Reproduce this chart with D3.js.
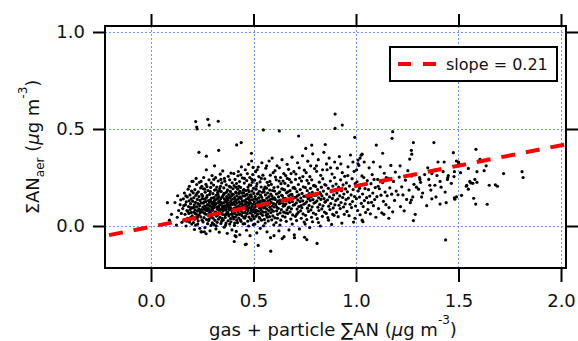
<!DOCTYPE html>
<html>
<head>
<meta charset="utf-8">
<script src="https://cdn.jsdelivr.net/npm/d3@7"></script>
<style>
  body { margin: 0; background: #fff; }
  text { font-family: "DejaVu Sans", sans-serif; fill: #111; }
</style>
</head>
<body>
<svg id="chart" width="578" height="341"></svg>
<script>
/// DATA ///
const xTicks = [0, 0.5, 1.0, 1.5, 2.0];
const yTicks = [0, 0.5, 1.0];
const fitSlope = 0.21;
const fitIntercept = -0.004;
const legendLabel = "slope = 0.21";

// gas + particle ΣAN vs aerosol ΣAN (µg m-3)
const points = [
  [0.080,0.120],[0.117,0.121],[0.130,0.156],[0.124,0.005],[0.151,0.019],[0.10,0.06],[0.135,0.08],[0.142,0.11],[0.128,0.045],[0.145,0.135],[0.09,0.03],[0.148,0.065],
  [0.155,0.09],[0.158,0.14],[0.161,0.03],[0.163,0.17],[0.166,0.06],[0.168,0.11],[0.171,0.00],[0.172,0.125],[0.175,0.08],[0.177,0.15],[0.179,0.04],[0.181,0.19],[0.183,0.10],[0.185,0.065],[0.186,0.13],[0.188,0.02],[0.19,0.16],[0.191,0.085],[0.193,0.115],[0.194,0.045],[0.196,0.14],[0.197,0.07],[0.198,0.18],[0.199,0.01],[0.16,0.105],[0.17,0.155],[0.18,0.075],[0.187,0.205],[0.195,0.095],[0.174,0.025],
  [0.201,0.052],[0.203,0.128],[0.204,0.093],[0.206,0.171],[0.207,0.018],[0.209,0.146],[0.210,0.071],[0.211,0.109],[0.213,0.035],[0.214,0.187],[0.215,0.083],[0.217,0.122],[0.218,0.004],[0.219,0.158],[0.221,0.061],[0.222,0.099],[0.223,0.214],[0.225,0.041],[0.226,0.137],[0.227,0.077],[0.229,0.115],[0.230,0.026],[0.231,0.176],[0.233,0.088],[0.234,0.151],[0.235,0.057],[0.237,0.104],[0.238,-0.012],[0.239,0.132],[0.241,0.069],[0.242,0.196],[0.243,0.047],[0.245,0.118],[0.246,0.085],[0.247,0.163],[0.249,0.030],[0.250,0.141],[0.205,0.230],[0.212,-0.018],[0.220,0.245],[0.228,0.010],[0.236,0.225],[0.244,-0.030],[0.248,0.205],[0.216,0.064],[0.224,0.168],[0.232,0.112],[0.240,0.079],[0.208,0.097],[0.227,0.048],
  [0.251,0.073],[0.252,0.155],[0.254,0.021],[0.255,0.118],[0.256,0.192],[0.258,0.087],[0.259,0.043],[0.260,0.139],[0.262,0.102],[0.263,-0.008],[0.264,0.174],[0.266,0.061],[0.267,0.126],[0.268,0.215],[0.270,0.094],[0.271,0.033],[0.272,0.148],[0.274,0.079],[0.275,0.110],[0.276,0.012],[0.278,0.183],[0.279,0.056],[0.280,0.131],[0.282,0.090],[0.283,0.238],[0.284,0.037],[0.286,0.163],[0.287,0.105],[0.288,-0.025],[0.290,0.070],[0.291,0.199],[0.292,0.124],[0.294,0.049],[0.295,0.144],[0.296,0.085],[0.298,0.260],[0.299,0.016],[0.300,0.113],[0.253,0.098],[0.257,0.250],[0.261,0.066],[0.265,0.140],[0.269,-0.040],[0.273,0.203],[0.277,0.088],[0.281,0.028],[0.285,0.121],[0.289,0.177],[0.293,0.003],[0.297,0.097],[0.258,0.122],[0.266,0.082],[0.274,0.157],[0.282,0.062],[0.290,0.135],[0.298,0.045],[0.262,0.190],[0.278,0.108],[0.294,0.222],[0.286,0.075],
  [0.301,0.081],[0.302,0.167],[0.303,0.040],[0.304,0.123],[0.305,0.211],[0.306,0.094],[0.307,0.008],[0.308,0.146],[0.309,0.063],[0.310,0.185],[0.311,0.107],[0.312,0.029],[0.313,0.134],[0.314,0.072],[0.315,0.249],[0.316,0.115],[0.317,-0.015],[0.318,0.158],[0.319,0.051],[0.320,0.096],[0.321,0.201],[0.322,0.138],[0.323,0.019],[0.324,0.086],[0.325,0.173],[0.326,0.059],[0.327,0.120],[0.328,0.232],[0.329,0.035],[0.330,0.102],[0.331,0.152],[0.332,0.074],[0.333,-0.032],[0.334,0.128],[0.335,0.193],[0.336,0.046],[0.337,0.110],[0.338,0.267],[0.339,0.084],[0.340,0.141],[0.341,0.013],[0.342,0.178],[0.343,0.067],[0.344,0.116],[0.345,0.222],[0.346,0.091],[0.347,0.039],[0.348,0.149],[0.349,0.103],[0.350,0.284],[0.303,0.100],[0.309,0.130],[0.315,0.070],[0.321,0.054],[0.327,0.165],[0.333,0.089],[0.339,0.205],[0.345,0.025],[0.306,0.240],[0.318,0.001],[0.330,0.180],[0.342,0.122],[0.312,0.112],[0.324,0.142],[0.336,0.079],[0.348,0.060],[0.305,0.145],[0.329,0.095],[0.341,0.240],[0.317,0.188],
  [0.351,0.077],[0.352,0.158],[0.353,0.031],[0.354,0.119],[0.355,0.196],[0.356,0.088],[0.357,-0.006],[0.358,0.140],[0.359,0.058],[0.360,0.231],[0.361,0.104],[0.362,0.044],[0.363,0.170],[0.364,0.082],[0.365,0.127],[0.366,0.015],[0.367,0.212],[0.368,0.095],[0.369,0.151],[0.370,0.066],[0.371,0.113],[0.372,-0.038],[0.373,0.186],[0.374,0.071],[0.375,0.135],[0.376,0.027],[0.377,0.256],[0.378,0.099],[0.379,0.162],[0.380,0.052],[0.381,0.121],[0.382,0.205],[0.383,0.083],[0.384,0.010],[0.385,0.145],[0.386,0.106],[0.387,0.178],[0.388,0.038],[0.389,0.129],[0.390,0.273],[0.391,0.090],[0.392,0.061],[0.393,0.154],[0.394,0.117],[0.395,-0.020],[0.396,0.223],[0.397,0.075],[0.398,0.138],[0.399,0.048],[0.400,0.192],[0.354,0.100],[0.362,0.132],[0.370,0.176],[0.378,0.060],[0.386,0.097],[0.394,0.166],[0.358,0.245],[0.366,0.059],[0.374,0.108],[0.382,0.147],[0.390,0.022],[0.398,0.111],[0.356,0.168],[0.364,0.005],[0.372,0.143],[0.380,0.086],[0.388,0.200],[0.396,0.063],[0.368,0.124],[0.384,0.238],
  [0.401,0.084],[0.402,0.163],[0.403,0.036],[0.404,0.122],[0.405,0.208],[0.406,0.092],[0.407,0.003],[0.408,0.147],[0.409,0.065],[0.410,0.240],[0.411,0.109],[0.412,0.047],[0.413,0.175],[0.414,0.078],[0.415,0.131],[0.416,-0.028],[0.417,0.219],[0.418,0.098],[0.419,0.156],[0.420,0.057],[0.421,0.118],[0.422,0.017],[0.423,0.190],[0.424,0.073],[0.425,0.139],[0.426,0.281],[0.427,0.101],[0.428,0.041],[0.429,0.168],[0.430,0.087],[0.431,0.125],[0.432,0.229],[0.433,-0.045],[0.434,0.150],[0.435,0.062],[0.436,0.112],[0.437,0.199],[0.438,0.080],[0.439,0.024],[0.440,0.142],[0.441,0.305],[0.442,0.095],[0.443,0.170],[0.444,0.053],[0.445,0.128],[0.446,0.248],[0.447,0.069],[0.448,0.107],[0.449,0.011],[0.450,0.185],[0.404,0.270],[0.412,0.136],[0.420,0.093],[0.428,0.205],[0.436,0.032],[0.444,0.115],[0.408,0.015],[0.416,0.171],[0.424,0.259],[0.432,0.060],[0.440,0.096],[0.448,0.155],[0.406,0.120],[0.414,0.200],[0.422,0.081],[0.430,0.146],[0.438,0.264],[0.446,0.089],[0.418,0.030],[0.434,0.179],
  [0.451,0.091],[0.452,0.172],[0.453,0.043],[0.454,0.129],[0.455,0.221],[0.456,0.099],[0.457,0.012],[0.458,0.155],[0.459,0.070],[0.460,0.290],[0.461,0.114],[0.462,0.052],[0.463,0.183],[0.464,0.085],[0.465,0.138],[0.466,-0.022],[0.467,0.234],[0.468,0.103],[0.469,0.164],[0.470,0.064],[0.471,0.121],[0.472,0.025],[0.473,0.201],[0.474,0.078],[0.475,0.146],[0.476,0.318],[0.477,0.108],[0.478,0.046],[0.479,0.177],[0.480,0.094],[0.481,0.132],[0.482,0.250],[0.483,-0.050],[0.484,0.158],[0.485,0.067],[0.486,0.119],[0.487,0.210],[0.488,0.087],[0.489,0.030],[0.490,0.150],[0.491,0.335],[0.492,0.101],[0.493,0.180],[0.494,0.058],[0.495,0.135],[0.496,0.265],[0.497,0.074],[0.498,0.112],[0.499,0.007],[0.500,0.194],[0.454,0.188],[0.462,0.125],[0.470,0.270],[0.478,0.140],[0.486,0.036],[0.494,0.225],[0.458,0.041],[0.466,0.096],[0.474,0.186],[0.482,0.117],[0.490,0.078],[0.498,0.302],[0.456,0.245],[0.464,0.160],[0.472,0.089],[0.480,0.212],[0.488,0.160],[0.496,0.050],[0.476,0.000],[0.492,0.240],
  [0.501,0.086],[0.502,0.168],[0.503,0.038],[0.504,0.125],[0.505,0.236],[0.506,0.097],[0.507,0.010],[0.508,0.152],[0.509,0.068],[0.510,0.280],[0.511,0.111],[0.512,0.050],[0.513,0.190],[0.514,0.082],[0.515,0.137],[0.516,-0.035],[0.517,0.218],[0.518,0.104],[0.519,0.165],[0.520,0.060],[0.521,0.123],[0.522,0.022],[0.523,0.304],[0.524,0.076],[0.525,0.145],[0.526,0.255],[0.527,0.107],[0.528,0.044],[0.529,0.179],[0.530,0.092],[0.531,0.130],[0.532,0.227],[0.533,-0.012],[0.534,0.159],[0.535,0.065],[0.536,0.116],[0.537,0.201],[0.538,0.081],[0.539,0.030],[0.540,0.148],[0.541,0.326],[0.542,0.098],[0.543,0.174],[0.544,0.055],[0.545,0.133],[0.546,0.262],[0.547,0.072],[0.548,0.110],[0.549,0.001],[0.550,0.188],[0.506,0.140],[0.514,0.205],[0.522,0.168],[0.530,0.040],[0.538,0.245],[0.546,0.128],[0.510,0.075],[0.518,0.290],[0.526,0.120],[0.534,0.095],
  [0.551,0.093],[0.552,0.176],[0.553,0.034],[0.554,0.131],[0.555,0.243],[0.556,0.101],[0.557,0.015],[0.558,0.160],[0.559,0.072],[0.560,0.298],[0.561,0.118],[0.562,0.056],[0.563,0.195],[0.564,0.088],[0.565,0.143],[0.566,-0.030],[0.567,0.225],[0.568,0.108],[0.569,0.170],[0.570,0.063],[0.571,0.128],[0.572,0.026],[0.573,0.210],[0.574,0.080],[0.575,0.152],[0.576,0.335],[0.577,0.113],[0.578,0.048],[0.579,0.185],[0.580,0.096],[0.581,0.136],[0.582,0.262],[0.583,-0.060],[0.584,0.165],[0.585,0.069],[0.586,0.122],[0.587,0.215],[0.588,0.085],[0.589,0.032],[0.590,0.155],[0.591,0.350],[0.592,0.104],[0.593,0.183],[0.594,0.052],[0.595,0.140],[0.596,0.275],[0.597,0.076],[0.598,0.116],[0.599,0.006],[0.600,0.198],[0.556,0.200],[0.568,0.045],[0.580,0.230],[0.592,0.140],[0.564,0.310],
  [0.601,0.098],[0.603,0.180],[0.604,0.042],[0.606,0.137],[0.607,0.252],[0.609,0.110],[0.610,0.018],[0.612,0.165],[0.613,0.078],[0.615,0.310],[0.616,0.124],[0.618,0.060],[0.619,0.202],[0.621,0.091],[0.622,0.150],[0.624,-0.025],[0.625,0.232],[0.627,0.115],[0.628,0.176],[0.630,0.068],[0.631,0.133],[0.633,0.030],[0.634,0.218],[0.636,0.084],[0.637,0.158],[0.639,0.342],[0.640,0.119],[0.642,0.051],[0.643,0.190],[0.645,0.102],[0.646,0.141],[0.648,0.270],[0.649,-0.055],[0.602,0.145],[0.611,0.238],[0.620,0.129],[0.629,0.005],[0.638,0.192],[0.647,0.072],[0.605,0.285],[0.614,0.096],[0.623,0.170],[0.632,0.250],[0.641,0.155],[0.650,0.112],[0.617,0.040],[0.626,0.300],[0.635,0.127],[0.644,0.232],
  [0.651,0.105],[0.652,0.186],[0.654,0.046],[0.655,0.143],[0.657,0.260],[0.658,0.114],[0.660,0.024],[0.661,0.171],[0.663,0.083],[0.664,0.318],[0.666,0.130],[0.667,0.065],[0.669,0.208],[0.670,0.095],[0.672,0.156],[0.673,-0.020],[0.675,0.240],[0.676,0.121],[0.678,0.182],[0.679,0.073],[0.681,0.139],[0.682,0.036],[0.684,0.226],[0.685,0.089],[0.687,0.163],[0.688,0.355],[0.690,0.125],[0.691,0.057],[0.693,0.196],[0.694,0.107],[0.696,0.148],[0.697,0.280],[0.699,-0.045],[0.653,0.220],[0.662,0.135],[0.671,0.292],[0.680,0.160],[0.689,0.010],[0.698,0.199],[0.656,0.068],[0.665,0.245],[0.674,0.098],[0.683,0.270],[0.692,0.150],[0.668,0.176],
  [0.701,0.110],[0.703,0.192],[0.704,0.050],[0.706,0.148],[0.707,0.268],[0.709,0.119],[0.710,0.028],[0.712,0.177],[0.713,0.087],[0.715,0.326],[0.716,0.135],[0.718,0.070],[0.719,0.214],[0.721,0.100],[0.722,0.161],[0.724,-0.015],[0.725,0.247],[0.727,0.126],[0.728,0.188],[0.730,0.078],[0.731,0.144],[0.733,0.040],[0.734,0.232],[0.736,0.094],[0.737,0.168],[0.739,0.362],[0.740,0.130],[0.742,0.062],[0.743,0.202],[0.745,0.112],[0.746,0.153],[0.748,0.288],[0.749,-0.058],[0.705,0.240],[0.714,0.155],[0.723,0.300],[0.732,0.105],[0.741,0.255],[0.747,0.020],[0.711,0.060],
  [0.751,0.116],[0.753,0.198],[0.754,0.055],[0.756,0.153],[0.757,0.275],[0.759,0.124],[0.760,0.033],[0.762,0.182],[0.763,0.092],[0.765,0.334],[0.766,0.140],[0.768,0.075],[0.769,0.220],[0.771,0.106],[0.772,0.167],[0.774,-0.008],[0.775,0.254],[0.777,0.131],[0.778,0.194],[0.780,0.083],[0.781,0.150],[0.783,0.045],[0.784,0.238],[0.786,0.099],[0.787,0.174],[0.789,0.372],[0.790,0.136],[0.792,0.067],[0.793,0.208],[0.795,0.118],[0.796,0.158],[0.798,0.296],[0.752,0.010],[0.761,0.235],[0.770,0.145],[0.779,0.310],[0.788,0.022],[0.797,0.210],
  [0.801,0.121],[0.803,0.204],[0.804,0.060],[0.806,0.159],[0.808,0.282],[0.809,0.129],[0.811,0.038],[0.813,0.188],[0.814,0.097],[0.816,0.342],[0.818,0.145],[0.819,0.080],[0.821,0.226],[0.823,0.111],[0.824,0.172],[0.826,0.000],[0.828,0.261],[0.829,0.137],[0.831,0.200],[0.833,0.088],[0.834,0.155],[0.836,0.050],[0.838,0.244],[0.839,0.104],[0.841,0.180],[0.843,0.380],[0.844,0.141],[0.846,0.072],[0.848,0.214],[0.849,0.123],[0.807,0.310],[0.817,0.018],[0.827,0.165],[0.837,0.290],
  [0.851,0.126],[0.853,0.210],[0.855,0.065],[0.857,0.164],[0.859,0.290],[0.861,0.134],[0.863,0.043],[0.865,0.194],[0.867,0.102],[0.869,0.350],[0.871,0.150],[0.873,0.085],[0.875,0.232],[0.877,0.116],[0.879,0.177],[0.881,0.008],[0.883,0.268],[0.885,0.142],[0.887,0.206],[0.889,0.093],[0.891,0.160],[0.893,0.055],[0.895,0.250],[0.897,0.109],[0.899,0.186],[0.856,0.320],[0.866,0.030],[0.876,0.300],[0.886,0.060],[0.896,0.330],
  [0.901,0.131],[0.903,0.216],[0.905,0.070],[0.907,0.170],[0.909,0.298],[0.911,0.139],[0.913,0.048],[0.915,0.200],[0.917,0.107],[0.919,0.358],[0.921,0.155],[0.923,0.090],[0.925,0.238],[0.927,0.121],[0.929,0.182],[0.931,0.015],[0.933,0.275],[0.935,0.147],[0.937,0.212],[0.939,0.098],[0.941,0.165],[0.943,0.060],[0.945,0.256],[0.947,0.114],[0.949,0.191],[0.926,0.320],
  [0.951,0.136],[0.953,0.222],[0.956,0.075],[0.958,0.176],[0.961,0.305],[0.963,0.144],[0.966,0.053],[0.968,0.206],[0.971,0.112],[0.973,0.366],[0.976,0.160],[0.978,0.095],[0.981,0.244],[0.983,0.126],[0.986,0.188],[0.988,0.020],[0.991,0.282],[0.993,0.152],[0.996,0.218],[0.998,0.103],[0.960,0.260],[0.985,0.330],
  [1.002,0.141],[1.005,0.228],[1.008,0.080],[1.011,0.181],[1.014,0.312],[1.017,0.149],[1.020,0.058],[1.023,0.212],[1.026,0.117],[1.029,0.258],[1.032,0.165],[1.035,0.100],[1.038,0.250],[1.041,0.131],[1.044,0.193],[1.047,0.070],[1.003,0.290],[1.018,0.195],[1.030,0.030],[1.040,0.215],[1.010,0.340],[1.025,0.365],
  [1.052,0.146],[1.055,0.234],[1.058,0.085],[1.061,0.187],[1.064,0.300],[1.067,0.154],[1.070,0.063],[1.073,0.218],[1.076,0.122],[1.079,0.265],[1.082,0.170],[1.085,0.105],[1.088,0.240],[1.091,0.136],[1.094,0.198],[1.097,0.045],[1.060,0.120],[1.085,0.330],
  [1.102,0.151],[1.106,0.240],[1.110,0.090],[1.114,0.192],[1.118,0.305],[1.122,0.159],[1.126,0.068],[1.130,0.224],[1.134,0.127],[1.138,0.272],[1.142,0.175],[1.146,0.110],[1.108,0.205],[1.136,0.060],[1.148,0.250],
  [1.152,0.156],[1.156,0.246],[1.161,0.095],[1.165,0.197],[1.170,0.312],[1.174,0.164],[1.179,0.073],[1.183,0.230],[1.188,0.132],[1.192,0.278],[1.196,0.180],[1.160,0.040],
  [1.205,0.161],[1.211,0.252],[1.217,0.100],[1.223,0.202],[1.229,0.160],[1.235,0.078],[1.241,0.236],[1.247,0.137],[1.253,0.285],[1.259,0.185],[1.265,0.120],[1.271,0.258],[1.277,0.150],[1.283,0.215],[1.289,0.060],[1.295,0.200],[1.215,0.310],[1.262,0.345],
  [1.305,0.190],[1.315,0.225],[1.325,0.170],[1.335,0.265],[1.345,0.105],[1.355,0.240],[1.365,0.185],[1.385,0.210],[1.395,0.260],[1.350,0.300],
  [1.415,0.200],[1.425,0.280],[1.435,0.175],[1.465,0.220],
  // scattered outliers
  [0.218,0.538],[0.277,0.550],[0.328,0.540],[0.223,0.510],[0.225,0.500],[0.284,0.520],[0.234,0.380],[0.270,0.360],[0.330,0.390],[0.310,0.310],[0.270,0.290],[0.200,0.230],[0.244,0.230],
  [0.247,-0.030],[0.260,-0.030],[0.406,-0.080],[0.460,-0.096],[0.418,0.418],[0.440,0.430],[0.410,-0.050],[0.415,-0.055],
  [0.898,0.577],[0.898,0.503],[0.933,0.520],[0.548,0.495],[0.626,0.490],[0.720,0.464],[0.490,0.375],[0.784,0.417],[0.850,0.420],[0.755,0.400],
  [0.810,-0.090],[0.584,-0.130],[0.523,-0.100],[0.465,-0.093],[0.600,-0.050],[0.640,-0.065],[0.700,-0.060],[0.760,-0.070],
  [1.179,0.486],[1.176,0.452],[0.994,0.457],[1.099,0.417],[1.280,0.430],[1.380,0.430],[1.270,0.390],[1.272,0.370],[1.475,0.378],[1.130,0.375],
  [1.010,0.320],[1.040,0.330],[1.030,0.370],[1.020,0.350],[1.280,0.028],[1.437,-0.072],[1.034,0.022],[0.995,0.040],
  [1.410,0.113],[1.440,0.120],[1.370,0.140],[1.390,0.150],[1.320,0.150],[1.270,0.134],[1.400,0.330],[1.430,0.330],[1.490,0.335],
  [1.450,0.260],[1.448,0.250],[1.446,0.240],[1.360,0.210],[1.370,0.270],[1.410,0.230],[1.490,0.150],[1.310,0.250],[1.312,0.240],
  [1.585,0.395],[1.500,0.330],[1.502,0.322],[1.605,0.344],[1.548,0.297],[1.510,0.275],[1.590,0.280],[1.625,0.285],[1.635,0.310],
  [1.580,0.240],[1.590,0.225],[1.570,0.220],[1.560,0.222],[1.555,0.230],[1.650,0.210],[1.680,0.212],[1.690,0.205],[1.720,0.270],
  [1.810,0.280],[1.815,0.250],[1.540,0.210],[1.538,0.205],[1.548,0.190],[1.515,0.158],[1.480,0.145],[1.482,0.138],[1.574,0.143],
  [1.584,0.113],[1.640,0.112],[1.480,0.280],[1.478,0.255]
];

/// LAYOUT & SCALES ///
const plot = { left: 105, right: 566, top: 26, bottom: 268 };
const svg = d3.select("#chart");

const x = d3.scaleLinear()
  .domain([-0.2244, 2.0244])
  .range([plot.left, plot.right]);

const y = d3.scaleLinear()
  .domain([-0.2165, 1.0309])
  .range([plot.bottom, plot.top]);

// GRID
const grid = svg.append("g")
  .attr("stroke", "#7594f7")
  .attr("stroke-width", 1)
  .attr("stroke-dasharray", "2,2");

grid.selectAll(".gx")
  .data(xTicks)
  .enter()
  .append("line")
  .attr("x1", d => Math.round(x(d)) + 0.5)
  .attr("x2", d => Math.round(x(d)) + 0.5)
  .attr("y1", plot.top)
  .attr("y2", plot.bottom);

grid.selectAll(".gy")
  .data(yTicks)
  .enter()
  .append("line")
  .attr("y1", d => Math.round(y(d)) + 0.5)
  .attr("y2", d => Math.round(y(d)) + 0.5)
  .attr("x1", plot.left)
  .attr("x2", plot.right);

// POINTS
svg.append("g")
  .selectAll("circle")
  .data(points)
  .enter()
  .append("circle")
  .attr("cx", d => x(d[0]))
  .attr("cy", d => y(d[1]))
  .attr("r", 1.6)
  .attr("fill", "#000");

// FIT LINE
svg.append("clipPath").attr("id", "clip")
  .append("rect")
  .attr("x", plot.left).attr("y", plot.top)
  .attr("width", plot.right - plot.left).attr("height", plot.bottom - plot.top);

const xd = x.domain();
svg.append("line")
  .attr("clip-path", "url(#clip)")
  .attr("x1", x(xd[0]) + 4)
  .attr("y1", y(fitSlope * (xd[0] + 4 / 205) + fitIntercept))
  .attr("x2", x(xd[1]))
  .attr("y2", y(fitSlope * xd[1] + fitIntercept))
  .attr("stroke", "#ff0000")
  .attr("stroke-width", 4)
  .attr("stroke-dasharray", "14,11");

// FRAME
svg.append("rect")
  .attr("x", plot.left)
  .attr("y", plot.top)
  .attr("width", plot.right - plot.left)
  .attr("height", plot.bottom - plot.top)
  .attr("fill", "none")
  .attr("stroke", "#000")
  .attr("stroke-width", 2);

// AXES
const fmt = d3.format(".1f");

function styleAxis(g) {
  g.select(".domain").remove();
  g.selectAll(".tick line").attr("stroke", "#000").attr("stroke-width", 2);
  g.selectAll(".tick text")
    .style("font-family", "'DejaVu Sans', sans-serif")
    .style("font-size", "18px")
    .attr("fill", "#111");
}

svg.append("g")
  .attr("transform", `translate(0, ${plot.bottom})`)
  .call(d3.axisBottom(x).tickValues(xTicks).tickFormat(fmt).tickSize(14).tickPadding(12))
  .call(styleAxis);

svg.append("g")
  .attr("transform", `translate(0, ${plot.top})`)
  .call(d3.axisTop(x).tickValues(xTicks).tickFormat("").tickSize(12))
  .call(styleAxis);

svg.append("g")
  .attr("transform", `translate(${plot.left}, 0)`)
  .call(d3.axisLeft(y).tickValues(yTicks).tickFormat(fmt).tickSize(12).tickPadding(8))
  .call(styleAxis);

svg.append("g")
  .attr("transform", `translate(${plot.right}, 0)`)
  .call(d3.axisRight(y).tickValues(yTicks).tickFormat("").tickSize(12))
  .call(styleAxis);

// AXIS TITLES
const xTitle = svg.append("text")
  .attr("x", 333)
  .attr("y", 336)
  .attr("text-anchor", "middle")
  .style("font-size", "18px");
xTitle.append("tspan").text("gas + particle \u2211AN (");
xTitle.append("tspan").style("font-style", "italic").text("\u03bc");
xTitle.append("tspan").text("g m");
xTitle.append("tspan").attr("dy", -12).style("font-size", "12px").text("-3");
xTitle.append("tspan").attr("dy", 12).text(")");

const yTitle = svg.append("text")
  .attr("transform", `translate(39, 147) rotate(-90)`)
  .attr("text-anchor", "middle")
  .style("font-size", "18px");
yTitle.append("tspan").text("\u03a3AN");
yTitle.append("tspan").attr("dy", 5).style("font-size", "12px").text("aer");
yTitle.append("tspan").attr("dy", -5).text(" (");
yTitle.append("tspan").style("font-style", "italic").text("\u03bc");
yTitle.append("tspan").text("g m");
yTitle.append("tspan").attr("dy", -12).style("font-size", "12px").text("-3");
yTitle.append("tspan").attr("dy", 12).text(")");

// LEGEND
const legend = svg.append("g").attr("transform", "translate(390, 47)");
legend.append("rect")
  .attr("width", 167)
  .attr("height", 34)
  .attr("fill", "#fff")
  .attr("stroke", "#000")
  .attr("stroke-width", 2);
legend.append("line")
  .attr("x1", 8).attr("x2", 46)
  .attr("y1", 17).attr("y2", 17)
  .attr("stroke", "#ff0000")
  .attr("stroke-width", 4)
  .attr("stroke-dasharray", "13,12");
legend.append("text")
  .attr("x", 56)
  .attr("y", 23)
  .style("font-size", "16px")
  .text(legendLabel);
</script>
</body>
</html>
